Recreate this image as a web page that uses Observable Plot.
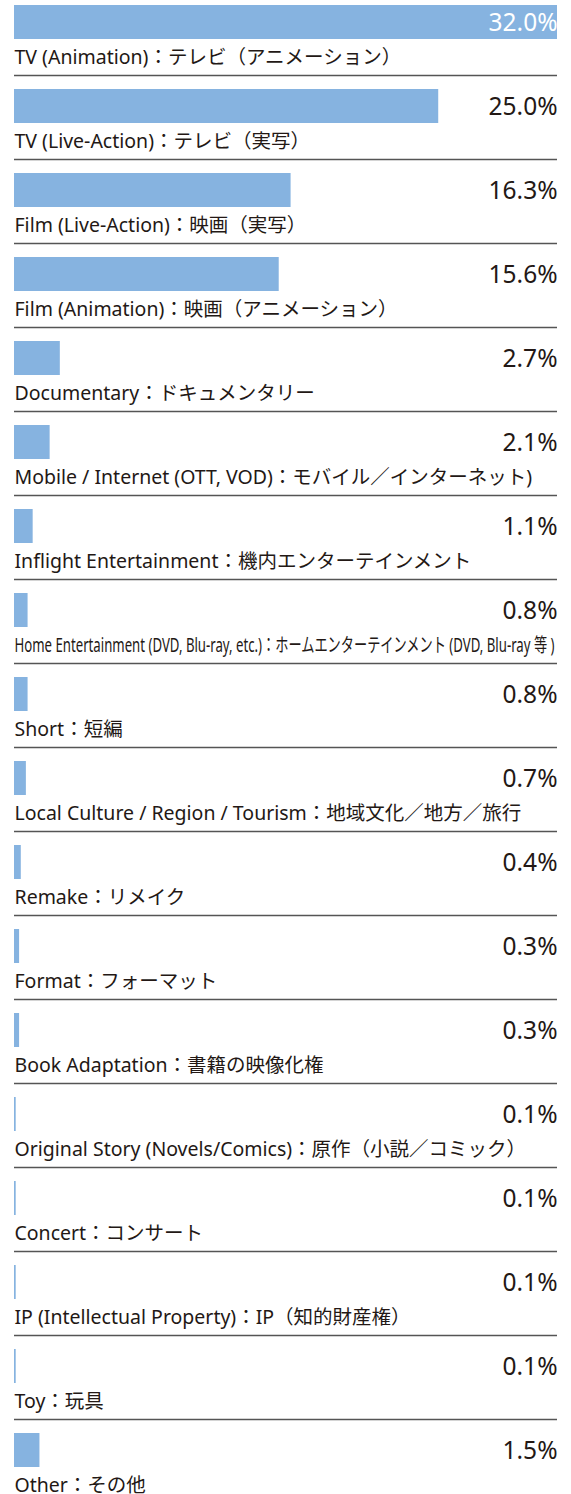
<!DOCTYPE html>
<html><head><meta charset="utf-8">
<script src="https://cdn.jsdelivr.net/npm/d3@7"></script>
<script src="https://cdn.jsdelivr.net/npm/@observablehq/plot@0.6"></script>
<style>body{margin:0;background:#fff} svg{display:block}</style>
</head><body><div id="chart"></div>
<script>
const categories = [
  "TV (Animation)：テレビ（アニメーション）",
  "TV (Live-Action)：テレビ（実写）",
  "Film (Live-Action)：映画（実写）",
  "Film (Animation)：映画（アニメーション）",
  "Documentary：ドキュメンタリー",
  "Mobile / Internet (OTT, VOD)：モバイル／インターネット)",
  "Inflight Entertainment：機内エンターテインメント",
  "Home Entertainment (DVD, Blu-ray, etc.)：ホームエンターテインメント (DVD, Blu-ray 等 )",
  "Short：短編",
  "Local Culture / Region / Tourism：地域文化／地方／旅行",
  "Remake：リメイク",
  "Format：フォーマット",
  "Book Adaptation：書籍の映像化権",
  "Original Story (Novels/Comics)：原作（小説／コミック）",
  "Concert：コンサート",
  "IP (Intellectual Property)：IP（知的財産権）",
  "Toy：玩具",
  "Other：その他"
];
const values = [32.0, 25.0, 16.3, 15.6, 2.7, 2.1, 1.1, 0.8, 0.8, 0.7, 0.4, 0.3, 0.3, 0.1, 0.1, 0.1, 0.1, 1.5];

const data = categories.map((c, i) => ({category: c, value: values[i], label: values[i].toFixed(1) + "%", idx: i}));
const xMax = d3.max(values);
const rowPitch = 84.06;
const font = "'Noto Sans', 'Noto Sans CJK JP', sans-serif";

const chart = Plot.plot({
  width: 571,
  height: 1494,
  margin: 0,
  style: {fontFamily: font, background: "#fff", overflow: "hidden"},
  x: {domain: [0, xMax], range: [14, 557], axis: null},
  y: {domain: categories, range: [0, categories.length * rowPitch], padding: 0, axis: null},
  marks: [
    Plot.barX(data, {x: "value", y: "category", fill: "#86b3e0", insetTop: 4, insetBottom: 46}),
    Plot.ruleY(data.filter(d => d.idx < categories.length - 1), {y: "category", dy: 32, stroke: "#555", strokeWidth: 1.6, insetLeft: 14, insetRight: 14}),
    Plot.text(data.filter(d => d.value === xMax), {x: () => xMax, y: "category", text: "label", textAnchor: "end", dy: -20, fill: "#fff", fontSize: 24.5}),
    Plot.text(data.filter(d => d.value !== xMax), {x: () => xMax, y: "category", text: "label", textAnchor: "end", dy: -20, fill: "#231815", fontSize: 24.5}),
    Plot.text(data, {x: 0, y: "category", text: "category", textAnchor: "start", dy: 14, fill: "#231815", fontSize: 19.5})
  ]
});
document.getElementById("chart").appendChild(chart);
chart.querySelectorAll("text").forEach(t => {
  if (t.textContent.startsWith("Home Entertainment")) {
    t.setAttribute("textLength", 540);
    t.setAttribute("lengthAdjust", "spacingAndGlyphs");
  }
});
</script>
</body></html>
